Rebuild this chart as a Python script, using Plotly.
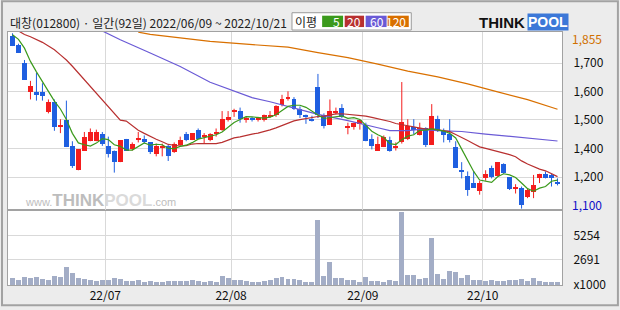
import plotly.graph_objects as go

# ---------------- data ----------------
title_text = "대창(012800) · 일간(92일) 2022/06/09 ~ 2022/10/21"
month_labels = ["22/07", "22/08", "22/09", "22/10"]
month_first_idx = [16, 37, 59, 79]

opens = [1845, 1805, 1725, 1600, 1600, 1600, 1515, 1560, 1450, 1480,
         1370, 1265, 1350, 1390, 1390, 1420, 1370, 1350, 1300, 1400,
         1355, 1395, 1400, 1385, 1335, 1365, 1370, 1345, 1375, 1420,
         1395, 1440, 1410, 1395, 1425, 1440, 1480, 1515, 1520, 1480,
         1490, 1485, 1480, 1495, 1505, 1545, 1570, 1570, 1530, 1505,
         1485, 1625, 1505, 1460, 1515, 1535, 1445, 1450, 1465, 1460,
         1400, 1350, 1365, 1395, 1360, 1385, 1400, 1450, 1415, 1445,
         1375, 1485, 1435, 1420, 1365, 1265, 1240, 1210, 1175, 1230,
         1275, 1240, 1290, 1235, 1185, 1190, 1150, 1170, 1230, 1250,
         1245, 1215]
highs = [1855, 1810, 1740, 1650, 1685, 1640, 1570, 1570, 1485, 1565,
         1390, 1355, 1430, 1445, 1440, 1430, 1410, 1350, 1395, 1400,
         1385, 1430, 1415, 1385, 1380, 1380, 1375, 1385, 1410, 1430,
         1425, 1445, 1425, 1425, 1445, 1520, 1520, 1530, 1535, 1495,
         1495, 1495, 1505, 1520, 1545, 1590, 1605, 1580, 1540, 1505,
         1500, 1680, 1510, 1570, 1535, 1550, 1470, 1470, 1480, 1470,
         1420, 1410, 1415, 1410, 1385, 1645, 1485, 1485, 1470, 1450,
         1550, 1500, 1445, 1485, 1390, 1300, 1260, 1260, 1220, 1265,
         1285, 1300, 1295, 1235, 1205, 1195, 1185, 1245, 1250, 1260,
         1250, 1230]
lows = [1800, 1770, 1655, 1570, 1565, 1565, 1510, 1435, 1425, 1365,
        1275, 1265, 1350, 1390, 1390, 1370, 1320, 1255, 1300, 1350,
        1350, 1385, 1380, 1335, 1325, 1325, 1305, 1340, 1370, 1390,
        1395, 1400, 1380, 1390, 1410, 1435, 1475, 1495, 1470, 1470,
        1475, 1475, 1475, 1490, 1495, 1540, 1565, 1525, 1490, 1465,
        1475, 1490, 1445, 1460, 1505, 1490, 1420, 1440, 1440, 1390,
        1355, 1350, 1365, 1345, 1350, 1380, 1395, 1420, 1415, 1365,
        1375, 1430, 1385, 1385, 1275, 1230, 1155, 1190, 1160, 1220,
        1230, 1240, 1250, 1180, 1165, 1100, 1145, 1145, 1210, 1230,
        1195, 1200]
closes = [1800, 1770, 1655, 1630, 1590, 1585, 1560, 1450, 1460, 1365,
          1285, 1355, 1410, 1430, 1430, 1380, 1335, 1300, 1395, 1350,
          1380, 1405, 1385, 1345, 1370, 1370, 1325, 1380, 1395, 1395,
          1425, 1400, 1415, 1420, 1430, 1485, 1495, 1525, 1485, 1490,
          1480, 1490, 1505, 1505, 1540, 1570, 1580, 1530, 1505, 1495,
          1480, 1505, 1455, 1520, 1520, 1495, 1455, 1470, 1480, 1390,
          1370, 1380, 1410, 1350, 1370, 1475, 1455, 1440, 1445, 1375,
          1500, 1435, 1415, 1395, 1275, 1260, 1180, 1190, 1210, 1250,
          1235, 1300, 1255, 1185, 1195, 1115, 1180, 1200, 1250, 1230,
          1230, 1205]
# volume in thousands of shares
volumes = [660, 450, 770, 700, 770, 600, 450, 870, 810, 1820,
           1190, 660, 560, 450, 350, 450, 450, 660, 560, 350,
           350, 450, 240, 350, 240, 240, 350, 350, 350, 350,
           450, 350, 240, 350, 240, 870, 700, 450, 450, 350,
           240, 240, 350, 450, 660, 770, 560, 560, 450, 240,
           240, 6860, 870, 2450, 660, 660, 490, 490, 240, 770,
           420, 350, 240, 450, 390, 7700, 980, 980, 600, 700,
           4970, 1080, 560, 1500, 1330, 700, 980, 450, 450, 350,
           450, 350, 350, 450, 450, 560, 350, 660, 420, 240,
           240, 240]

# moving-average values read off the picture where the window reaches
# before the first shown day
ma5_head = [1849, 1829, 1791, 1734]
ma20_head = [None, 1865, 1850, 1840, 1829, 1816, 1800, 1784, 1762, 1740,
             1713, 1684, 1656, 1627, 1596, 1569, 1538, 1508, 1481]
ma60_idx = [15, 18, 23, 28, 33, 37, 40, 43, 46, 48, 51, 56, 61, 63, 66,
            68, 71, 75, 79, 84, 87, 91]
ma60_val = [1865, 1827, 1770, 1712, 1644, 1607, 1578, 1560, 1541, 1526,
            1506, 1479, 1448, 1436, 1436, 1441, 1436, 1432, 1421, 1408,
            1401, 1391]
ma120_idx = [21, 23, 28, 33, 39, 46, 51, 56, 61, 66, 71, 76, 81, 86, 91]
ma120_val = [1860, 1850, 1835, 1820, 1808, 1795, 1772, 1750, 1722, 1692,
             1667, 1637, 1603, 1569, 1528]

ma_labels = ["5", "20", "60", "120"]
price_max_label = "1,855"
price_min_label = "1,100"
price_grid_vals = [1727, 1604, 1482, 1358, 1235]
price_grid_text = ["1,700", "1,600", "1,500", "1,400", "1,200"]
vol_tick_vals = [0, 2691, 5254]
vol_tick_text = ["x1000", "2691", "5254"]

# ---------------- derived ----------------
n = len(closes)
idx = list(range(n))


def rolling(vals, w, head):
    out = list(head)
    for i in range(len(head), len(vals)):
        out.append(sum(vals[i - w + 1:i + 1]) / w)
    return out


ma5 = rolling(closes, 5, ma5_head)
ma20 = rolling(closes, 20, ma20_head)

# ---------------- style ----------------
W, H = 620, 310
L, R, T, B = 7, 58, 32, 22
PX_L, PX_R, PY_T, PY_B = L, W - R, T, H - B
SPLIT_PY = 212.5
RED = "#f41d1d"
BLUE = "#1f5fe0"
C5, C20, C60, C120 = "#3b9a1c", "#b83030", "#6a5ad6", "#d97000"
GRID = "#d9d9d9"
FRAME = "#a2a2a2"
FONT = "Noto Sans CJK KR"


def fx(px):
    return (px - PX_L) / (PX_R - PX_L)


def fy(py):
    return (PY_B - py) / (PY_B - PY_T)


vol_frac = fy(SPLIT_PY)

up = [c >= o for o, c in zip(opens, closes)]
body_base = [min(o, c) for o, c in zip(opens, closes)]
body_h = [max(abs(c - o), 4) for o, c in zip(opens, closes)]
body_col = [RED if u else BLUE for u in up]

fig = go.Figure()

for flag, col in ((True, RED), (False, BLUE)):
    xs, ys = [], []
    for i in idx:
        if up[i] == flag:
            xs += [i, i, None]
            ys += [lows[i], highs[i], None]
    fig.add_trace(go.Scatter(x=xs, y=ys, mode="lines",
                             line=dict(color=col, width=1),
                             xaxis="x2", yaxis="y", hoverinfo="skip",
                             showlegend=False))

fig.add_trace(go.Bar(x=idx, y=body_h, base=body_base, width=0.83,
                     marker=dict(color=body_col, line=dict(width=0)),
                     xaxis="x2", yaxis="y", showlegend=False))

for xs, ys, col in ((ma120_idx, ma120_val, C120), (ma60_idx, ma60_val, C60),
                    (idx, ma20, C20), (idx, ma5, C5)):
    fig.add_trace(go.Scatter(x=xs, y=ys, mode="lines",
                             line=dict(color=col, width=1.2),
                             xaxis="x2", yaxis="y", hoverinfo="skip",
                             showlegend=False, connectgaps=False))

fig.add_trace(go.Bar(x=idx, y=volumes, width=0.83,
                     marker=dict(color="#a3adc6", line=dict(width=0)),
                     xaxis="x", yaxis="y2", showlegend=False))

grid_x = [m - 0.5 for m in month_first_idx]
x_common = dict(range=[-0.75, n - 0.25], tickmode="array", tickvals=grid_x,
                showgrid=True, gridcolor=GRID, gridwidth=1, zeroline=False,
                showline=True, mirror=True, linecolor=FRAME, linewidth=1,
                ticks="", fixedrange=True)

price_lo = 1996.7 - 4.256 * SPLIT_PY
price_hi = 1996.7 - 4.256 * PY_T

fig.update_layout(
    width=W, height=H,
    margin=dict(l=L, r=R, t=T, b=B),
    paper_bgcolor="#ececec", plot_bgcolor="#ffffff",
    barmode="overlay", bargap=0,
    font=dict(family=FONT, size=12, color="#111111"),
    xaxis=dict(anchor="y2", ticktext=month_labels, showticklabels=True,
               tickfont=dict(size=12, color="#111111"), **x_common),
    xaxis2=dict(anchor="y", matches="x", showticklabels=False, **x_common),
    yaxis=dict(domain=[vol_frac, 1], range=[price_lo, price_hi], side="right",
               tickmode="array", tickvals=price_grid_vals,
               ticktext=price_grid_text, showgrid=True, gridcolor=GRID,
               zeroline=False, showline=True, mirror=True, linecolor=FRAME,
               ticks="", ticklabelstandoff=8, fixedrange=True),
    yaxis2=dict(domain=[0, vol_frac], range=[0, 7930], side="right",
                tickmode="array", tickvals=vol_tick_vals,
                ticktext=vol_tick_text, showgrid=True, gridcolor=GRID,
                zeroline=False, showline=True, mirror=True, linecolor=FRAME,
                ticks="", ticklabelstandoff=8, fixedrange=True),
    showlegend=False,
)

shapes = []
annotations = []

# outer frame
shapes.append(dict(type="rect", xref="paper", yref="paper",
                   x0=fx(1), x1=fx(618), y0=fy(1), y1=fy(308.5),
                   line=dict(color=FRAME, width=2), fillcolor="rgba(0,0,0,0)",
                   layer="above"))

# title
annotations.append(dict(text=title_text, xref="paper", yref="paper",
                        x=fx(7), y=fy(22), xanchor="left", yanchor="middle",
                        showarrow=False, font=dict(size=12, color="#222222")))

# MA legend box
shapes.append(dict(type="rect", xref="paper", yref="paper",
                   x0=fx(291.5), x1=fx(411), y0=fy(12.5), y1=fy(30),
                   line=dict(color="#9a9a9a", width=1), fillcolor="#ffffff"))
annotations.append(dict(text="이평", xref="paper", yref="paper",
                        x=fx(306), y=fy(21.5), xanchor="center",
                        yanchor="middle", showarrow=False,
                        font=dict(size=12, color="#222222")))
box_edges = [(321.7, 342.7), (344.3, 363.7), (365.3, 386.3), (387.3, 408.5)]
for (a, b), lab, col in zip(box_edges, ma_labels, (C5, C20, C60, C120)):
    shapes.append(dict(type="rect", xref="paper", yref="paper",
                       x0=fx(a), x1=fx(b), y0=fy(15.5), y1=fy(27),
                       line=dict(width=0), fillcolor=col))
    annotations.append(dict(text=lab, xref="paper", yref="paper",
                            x=fx(b - 1), y=fy(21.5), xanchor="right",
                            yanchor="middle", showarrow=False,
                            font=dict(size=12, color="#ffffff")))

# THINKPOOL logo
annotations.append(dict(text="<b>THINK</b>", xref="paper", yref="paper",
                        x=fx(527), y=fy(22), xanchor="right",
                        yanchor="middle", showarrow=False,
                        font=dict(family="Liberation Sans", size=15,
                                  color="#111111")))
annotations.append(dict(text="<b>POOL</b>", xref="paper", yref="paper",
                        x=fx(527), y=fy(22), xanchor="left",
                        yanchor="middle", showarrow=False,
                        bgcolor="#3c78d8", borderpad=0,
                        font=dict(family="Liberation Sans", size=14,
                                  color="#ffffff")))

# watermark
annotations.append(dict(
    text="www.<b><span style='font-size:17px'>THINK</span></b>"
         "<b><span style='font-size:17px;color:#dadada'>POOL</span></b>.com",
    xref="paper", yref="paper", x=fx(22), y=fy(203), xanchor="left",
    yanchor="middle", showarrow=False,
    font=dict(family="Liberation Sans", size=11, color="#bdbdbd")))

# max / min price labels
annotations.append(dict(text=price_max_label, xref="paper", yref="paper",
                        x=1, y=fy(39), xanchor="left", yanchor="middle",
                        xshift=8, showarrow=False,
                        font=dict(size=12, color="#d07000")))
annotations.append(dict(text=price_min_label, xref="paper", yref="paper",
                        x=1, y=fy(207), xanchor="left", yanchor="middle",
                        xshift=8, showarrow=False,
                        font=dict(size=12, color="#1010c8")))

fig.update_layout(shapes=shapes, annotations=annotations)
fig.write_html("out.html")
